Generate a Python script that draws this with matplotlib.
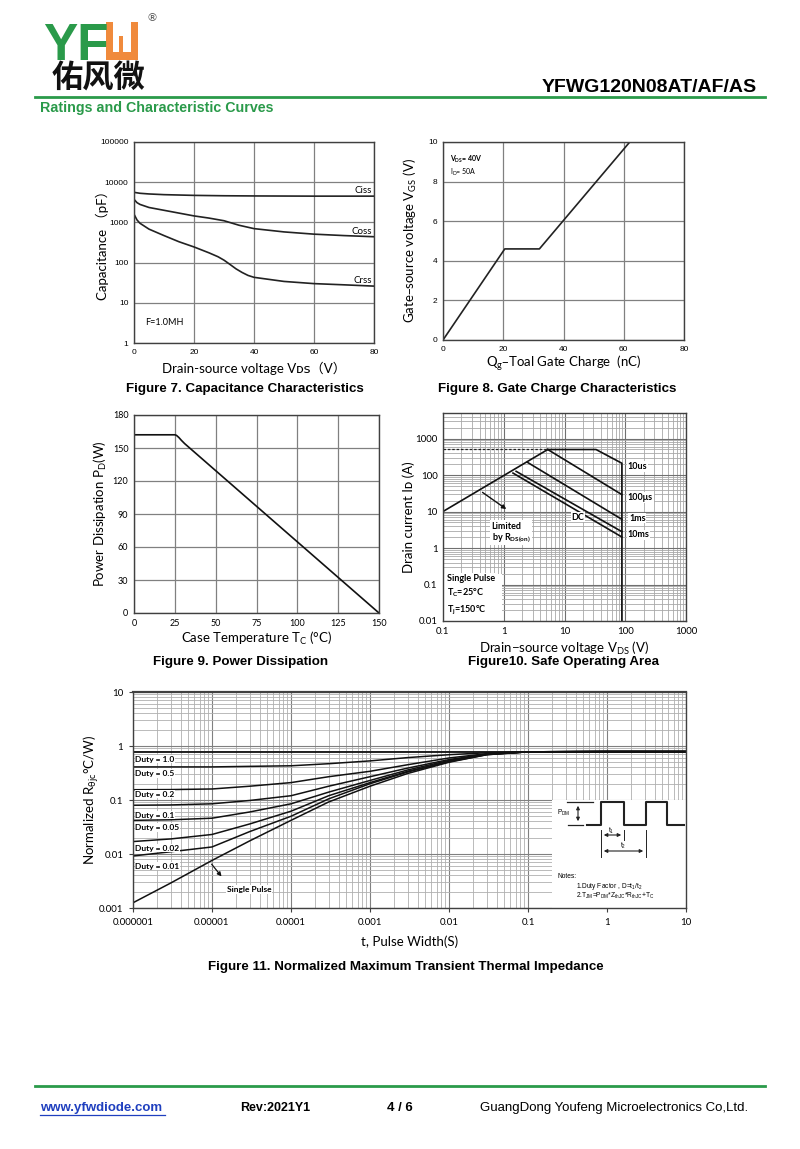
import numpy as np
import matplotlib
matplotlib.use('Agg')
import matplotlib.pyplot as plt
from matplotlib.patches import Rectangle, FancyArrowPatch
from matplotlib.lines import Line2D
from matplotlib.ticker import LogLocator, NullFormatter

plt.rcParams['font.family'] = ['Lato', 'DejaVu Sans', 'Noto Sans CJK SC']
plt.rcParams['mathtext.default'] = 'regular'

# ---- Figure 7: capacitance (pF) vs Vds (V)
ciss_v = [0, 2, 5, 10, 20, 30, 40, 60, 80]
ciss = [5600, 5300, 5100, 4900, 4700, 4600, 4550, 4500, 4500]
coss_v = [0, 1, 2, 5, 10, 20, 25, 30, 35, 40, 50, 60, 70, 80]
coss = [3750, 3100, 2800, 2350, 2000, 1450, 1280, 1100, 850, 700, 580, 510, 470, 440]
crss_v = [0, 1, 2, 5, 10, 15, 20, 25, 28, 30, 32, 34, 36, 38, 40, 50, 60, 70, 80]
crss = [1600, 1150, 950, 680, 470, 330, 245, 175, 140, 115, 90, 70, 57, 48, 43, 34, 30, 28, 26]

# ---- Figure 8: gate charge
qg = [0, 20.5, 32, 62]
vgs = [0, 4.6, 4.6, 10]

# ---- Figure 9: power dissipation
tc = [0, 25, 26, 27.5, 29, 31, 150]
pd = [162, 162, 161.5, 159.5, 157, 154, 0]

# ---- Figure 10: safe operating area
rds_v, rds_i = [0.1, 5.3], [10, 500]
lim_v, lim_i = [0.1, 5.3], [500, 500]
soa_10us_v, soa_10us_i = [5.3, 33, 88, 88], [500, 500, 210, 0.01]
soa_100us_v, soa_100us_i = [5.3, 88], [500, 29]
soa_1ms_v, soa_1ms_i = [2.45, 88], [223, 6.1]
soa_10ms_v, soa_10ms_i = [1.6, 88], [126, 2.8]
soa_dc_v, soa_dc_i = [1.42, 88], [113, 2.0]

# ---- Figure 11: transient thermal impedance
t_pulse = [1e-6, 3e-6, 1e-5, 3e-5, 1e-4, 3e-4, 1e-3, 3e-3, 1e-2, 3e-2, 1e-1, 1, 10]
z_duty = {
    '1.0':  [0.79] * 13,
    '0.5':  [0.41, 0.41, 0.41, 0.42, 0.43, 0.47, 0.53, 0.61, 0.69, 0.75, 0.78, 0.79, 0.79],
    '0.2':  [0.155, 0.156, 0.16, 0.18, 0.21, 0.27, 0.34, 0.45, 0.60, 0.72, 0.78, 0.79, 0.79],
    '0.1':  [0.08, 0.081, 0.085, 0.098, 0.12, 0.18, 0.27, 0.39, 0.56, 0.71, 0.78, 0.79, 0.79],
    '0.05': [0.042, 0.043, 0.046, 0.06, 0.085, 0.14, 0.23, 0.36, 0.54, 0.70, 0.78, 0.79, 0.79],
    '0.02': [0.017, 0.019, 0.023, 0.036, 0.062, 0.12, 0.21, 0.34, 0.52, 0.70, 0.78, 0.79, 0.79],
    '0.01': [0.0092, 0.011, 0.0135, 0.026, 0.05, 0.105, 0.20, 0.33, 0.51, 0.69, 0.78, 0.79, 0.79],
}
z_single = [0.00125, 0.0029, 0.0076, 0.0175, 0.042, 0.092, 0.18, 0.31, 0.50, 0.69, 0.78, 0.79, 0.79]
duty_label_y = {'1.0': 0.57, '0.5': 0.31, '0.2': 0.128, '0.1': 0.052,
                '0.05': 0.031, '0.02': 0.0128, '0.01': 0.0059}

W, H = 800, 1149
fig = plt.figure(figsize=(W / 100, H / 100), dpi=100)
GREEN = '#2a9a4a'
ORANGE = '#f08a3c'
GRID = '#808080'
TICKF = 'Liberation Sans'


def box(l, t, r, b):
    return [l / W, 1 - b / H, (r - l) / W, (b - t) / H]


def P(x, y):
    return (x / W, 1 - y / H)


def style(ax, size=6.5, fam=TICKF):
    ax.tick_params(length=0, labelsize=size, pad=4)
    for lab in ax.get_xticklabels() + ax.get_yticklabels():
        lab.set_fontfamily(fam)
    for s in ax.spines.values():
        s.set_color('#404040')
        s.set_linewidth(1.0)
    ax.set_axisbelow(True)


# ---------------- header
fig.text(*P(43, 60), 'YF', color=GREEN, fontsize=37, fontweight='bold',
         family='Liberation Sans', ha='left', va='baseline')
for (x0, y0, w, h) in [(106, 22, 7, 38), (131, 22, 7, 38), (106, 52, 32, 8), (119, 36, 4, 17)]:
    fig.add_artist(Rectangle(P(x0, y0 + h), w / W, h / H, color=ORANGE,
                             transform=fig.transFigure, lw=0))
fig.text(*P(152, 18), '®', fontsize=8, color='#555555', ha='center', va='center',
         family='DejaVu Sans')
fig.text(*P(52, 79), '佑风微', fontsize=22.5, fontweight='bold', family='Noto Sans CJK SC',
         ha='left', va='center', color='#111111')
fig.text(*P(757, 87), 'YFWG120N08AT/AF/AS', fontsize=14, fontweight='bold',
         family='Liberation Sans', ha='right', va='center')
fig.add_artist(Line2D([35 / W, 765 / W], [1 - 97 / H] * 2, color=GREEN, lw=2,
                      transform=fig.transFigure))
fig.text(*P(40, 108), 'Ratings and Characteristic Curves', fontsize=10.3,
         fontweight='bold', family='Liberation Sans', color=GREEN, ha='left', va='center')

CAP = dict(fontsize=9.6, fontweight='bold', family='Liberation Sans', ha='center', va='center')

# ---------------- Figure 7
ax7 = fig.add_axes(box(134, 142, 374, 343))
ax7.plot(ciss_v, ciss, color='#222222', lw=1.2)
ax7.plot(coss_v, coss, color='#222222', lw=1.2)
ax7.plot(crss_v, crss, color='#222222', lw=1.2)
ax7.set_yscale('log')
ax7.set_xlim(0, 80)
ax7.set_ylim(1, 1e5)
ax7.set_xticks([0, 20, 40, 60, 80])
ax7.set_yticks([1, 10, 100, 1000, 10000, 100000],
               ['1', '10', '100', '1000', '10000', '100000'])
ax7.minorticks_off()
ax7.grid(True, color=GRID, lw=0.9)
style(ax7, 6)
ax7.text(79.3, 6300, 'Ciss', fontsize=7, ha='right', va='center')
ax7.text(79.3, 610, 'Coss', fontsize=7, ha='right', va='center')
ax7.text(79.3, 35, 'Crss', fontsize=7, ha='right', va='center')
ax7.text(3.7, 3.2, 'F=1.0MH', fontsize=6.5, ha='left', va='center')
ax7.set_xlabel('Drain-source voltage Vᴅꜱ（V）', fontsize=9.5)
ax7.set_ylabel('Capacitance （pF）', fontsize=9.5)
ax7.xaxis.set_label_coords(0.5, -0.095)
ax7.yaxis.set_label_coords(-0.104, 0.5)
fig.text(*P(245, 389), 'Figure 7. Capacitance Characteristics', **CAP)

# ---------------- Figure 8
ax8 = fig.add_axes(box(443, 142, 684, 340))
ax8.plot(qg, vgs, color='#222222', lw=1.2)
ax8.set_xlim(0, 80)
ax8.set_ylim(0, 10)
ax8.set_xticks([0, 20, 40, 60, 80])
ax8.set_yticks([0, 2, 4, 6, 8, 10])
ax8.grid(True, color=GRID, lw=0.9)
style(ax8, 6)
ax8.text(2.2, 9.1, 'V$_{DS}$= 40V', fontsize=5, fontweight='bold', ha='left', va='center')
ax8.text(2.2, 8.45, 'I$_{D}$= 50A', fontsize=5, ha='left', va='center')
ax8.set_xlabel('Q$_{g}$–Toal Gate Charge  (nC)', fontsize=9.5)
ax8.set_ylabel('Gate–source voltage V$_{GS}$ (V)', fontsize=9.5)
ax8.xaxis.set_label_coords(0.5, -0.065)
ax8.yaxis.set_label_coords(-0.1, 0.5)
fig.text(*P(557, 389), 'Figure 8. Gate Charge Characteristics', **CAP)

# ---------------- Figure 9
ax9 = fig.add_axes(box(134, 415, 379, 613))
ax9.plot(tc, pd, color='#111111', lw=1.2)
ax9.set_xlim(0, 150)
ax9.set_ylim(0, 180)
ax9.set_xticks([0, 25, 50, 75, 100, 125, 150])
ax9.set_yticks([0, 30, 60, 90, 120, 150, 180])
ax9.grid(True, color=GRID, lw=0.9)
style(ax9, 6.5, 'Lato')
ax9.set_xlabel('Case Temperature T$_{C}$ (°C)', fontsize=9.5)
ax9.set_ylabel('Power Dissipation P$_{D}$(W)', fontsize=9.5)
ax9.xaxis.set_label_coords(0.5, -0.085)
ax9.yaxis.set_label_coords(-0.1, 0.5)
fig.text(*P(241, 662), 'Figure 9. Power Dissipation', **CAP)

# ---------------- Figure 10
ax10 = fig.add_axes(box(443, 413, 686, 621))
ax10.set_xscale('log')
ax10.set_yscale('log')
ax10.set_xlim(0.1, 1000)
ax10.set_ylim(0.01, 5000)
ax10.xaxis.set_minor_locator(LogLocator(subs=np.arange(2, 10)))
ax10.yaxis.set_minor_locator(LogLocator(subs=np.arange(2, 10)))
ax10.xaxis.set_minor_formatter(NullFormatter())
ax10.yaxis.set_minor_formatter(NullFormatter())
ax10.set_xticks([0.1, 1, 10, 100, 1000], ['0.1', '1', '10', '100', '1000'])
ax10.set_yticks([0.01, 0.1, 1, 10, 100, 1000], ['0.01', '0.1', '1', '10', '100', '1000'])
ax10.grid(True, which='major', color='#707070', lw=0.8)
ax10.grid(True, which='minor', color='#a8a8a8', lw=0.6)
style(ax10, 7, 'Lato')
ax10.tick_params(which='minor', length=0)
ax10.add_patch(Rectangle((0.1, 0.01), 0.93 - 0.1, 0.2 - 0.01, facecolor='white',
                         edgecolor='none', zorder=1))
ax10.add_patch(Rectangle((0.6, 1.2), 2.9 - 0.6, 5.9 - 1.2, facecolor='white',
                         edgecolor='none', zorder=1))
ax10.plot(lim_v, lim_i, color='#222222', lw=0.9, ls=(0, (2, 1.5)))
for v, i in [(rds_v, rds_i), (soa_10us_v, soa_10us_i), (soa_100us_v, soa_100us_i),
             (soa_1ms_v, soa_1ms_i), (soa_10ms_v, soa_10ms_i), (soa_dc_v, soa_dc_i)]:
    ax10.plot(v, i, color='#111111', lw=1.2)
ax10.annotate('', xy=(1.2, 10.5), xytext=(0.41, 37),
              arrowprops=dict(arrowstyle='-|>', color='#111111', lw=1, mutation_scale=6))
lbl = dict(fontsize=6.5, fontweight='bold', va='center', ha='left',
           bbox=dict(facecolor='white', edgecolor='none', pad=0.5))
ax10.text(110, 173, '10us', **lbl)
ax10.text(110, 24, '100μs', **lbl)
ax10.text(115, 6.6, '1ms', **lbl)
ax10.text(110, 2.3, '10ms', **lbl)
ax10.text(13, 7, 'DC', **lbl)
ax10.text(0.63, 3.9, 'Limited', **lbl)
ax10.text(0.63, 1.97, 'by R$_{DS(on)}$', **lbl)
ax10.text(0.115, 0.146, 'Single Pulse', **lbl)
ax10.text(0.115, 0.058, 'T$_{C}$=25°C', **lbl)
ax10.text(0.115, 0.02, 'T$_{j}$=150°C', **lbl)
ax10.set_xlabel('Drain−source voltage V$_{DS}$ (V)', fontsize=9.5)
ax10.set_ylabel('Drain current Iᴅ (A)', fontsize=9.5)
ax10.xaxis.set_label_coords(0.5, -0.09)
ax10.yaxis.set_label_coords(-0.117, 0.5)
fig.text(*P(563, 662), 'Figure10. Safe Operating Area', **CAP)

# ---------------- Figure 11
ax11 = fig.add_axes(box(133, 692, 686, 908))
ax11.set_xscale('log')
ax11.set_yscale('log')
ax11.set_xlim(1e-6, 10)
ax11.set_ylim(1e-3, 10)
ax11.xaxis.set_minor_locator(LogLocator(subs=np.arange(2, 10)))
ax11.yaxis.set_minor_locator(LogLocator(subs=np.arange(2, 10)))
ax11.xaxis.set_minor_formatter(NullFormatter())
ax11.yaxis.set_minor_formatter(NullFormatter())
xt = [1e-6, 1e-5, 1e-4, 1e-3, 1e-2, 1e-1, 1, 10]
ax11.set_xticks(xt, ['0.000001', '0.00001', '0.0001', '0.001', '0.01', '0.1', '1', '10'])
ax11.set_yticks([1e-3, 1e-2, 1e-1, 1, 10], ['0.001', '0.01', '0.1', '1', '10'])
ax11.grid(True, which='major', color='#808080', lw=0.8)
ax11.grid(True, which='minor', color='#b0b0b0', lw=0.6)
style(ax11, 7, 'Lato')
ax11.tick_params(which='major', length=3, direction='out', color='#404040')
ax11.tick_params(which='minor', length=0)
ax11.spines['top'].set_linewidth(1.6)
ax11.add_patch(Rectangle((0.2, 0.001), 10 - 0.2, 0.1 - 0.001, facecolor='white',
                         edgecolor='none', zorder=1))
for d, z in z_duty.items():
    ax11.plot(t_pulse, z, color='#111111', lw=1.3 if d == '1.0' else 1.1)
ax11.plot(t_pulse, z_single, color='#111111', lw=1.1)
dl = dict(fontsize=6, fontweight='bold', va='center', ha='left',
          bbox=dict(facecolor='white', edgecolor='none', pad=0.4))
for d, yv in duty_label_y.items():
    ax11.text(1.07e-6, yv, 'Duty = ' + d, **dl)
ax11.text(1.55e-5, 0.0022, 'Single Pulse', **dl)
ax11.annotate('', xy=(1.39e-5, 0.0035), xytext=(9.4e-6, 0.0071),
              arrowprops=dict(arrowstyle='-|>', color='#111111', lw=0.9, mutation_scale=6))
ax11.set_xlabel('t, Pulse Width(S)', fontsize=9.5)
ax11.set_ylabel('Normalized R$_{θjc}$°C/W)', fontsize=9.5)
ax11.xaxis.set_label_coords(0.5, -0.125)
ax11.yaxis.set_label_coords(-0.058, 0.5)

# pulse sketch inside figure 11
def fline(xs, ys, lw=1.0):
    fig.add_artist(Line2D([x / W for x in xs], [1 - y / H for y in ys], color='#222222',
                          lw=lw, transform=fig.transFigure))


def farrow(p0, p1):
    fig.add_artist(FancyArrowPatch(P(*p0), P(*p1), arrowstyle='<|-|>', mutation_scale=5,
                                   color='#222222', lw=0.8, transform=fig.transFigure))


fline([567, 593], [802, 802], 0.9)
fline([568, 583], [825, 825], 0.9)
farrow((578, 803), (578, 824))
fline([587, 601, 601, 624, 624, 646, 646, 667, 667, 684],
      [825, 825, 802, 802, 825, 825, 802, 802, 825, 825], 1.5)
fline([601, 601], [830, 857], 0.7)
fline([624, 624], [830, 840], 0.7)
fline([646, 646], [830, 857], 0.7)
farrow((601, 835), (624, 835))
farrow((601, 851), (646, 851))
sk = dict(fontsize=4.8, family='Liberation Sans', va='center', ha='left')
fig.text(*P(557, 813), 'P$_{DM}$', **sk)
fig.text(*P(608, 831), 't$_{1}$', **sk)
fig.text(*P(620, 846), 't$_{2}$', **sk)
fig.text(*P(557, 877), 'Notes:', **sk)
fig.text(*P(576, 886), '1.Duty Factor , D=t$_{1}$/t$_{2}$', **sk)
fig.text(*P(576, 896), '2.T$_{JM}$=P$_{DM}$*Z$_{thJC}$*R$_{thJC}$+T$_{C}$', **sk)

fig.text(*P(406, 967), 'Figure 11. Normalized Maximum Transient Thermal Impedance', **CAP)

# ---------------- footer
fig.add_artist(Line2D([35 / W, 765 / W], [1 - 1086 / H] * 2, color=GREEN, lw=2,
                      transform=fig.transFigure))
ft = dict(fontsize=9.5, family='Liberation Sans', va='center', ha='left')
fig.text(*P(40, 1108), 'www.yfwdiode.com', color='#1f3fbf', fontweight='bold', **ft)
fig.add_artist(Line2D([40 / W, 165 / W], [1 - 1115 / H] * 2, color='#1f3fbf', lw=0.9,
                      transform=fig.transFigure))
fig.text(*P(240, 1108), 'Rev:2021Y1', fontweight='bold', fontsize=9, family='Liberation Sans',
         va='center', ha='left')
fig.text(*P(387, 1108), '4 / 6', fontweight='bold', **ft)
fig.text(*P(480, 1108), 'GuangDong Youfeng Microelectronics Co,Ltd.', **ft)

fig.savefig('out.png', dpi=100)
